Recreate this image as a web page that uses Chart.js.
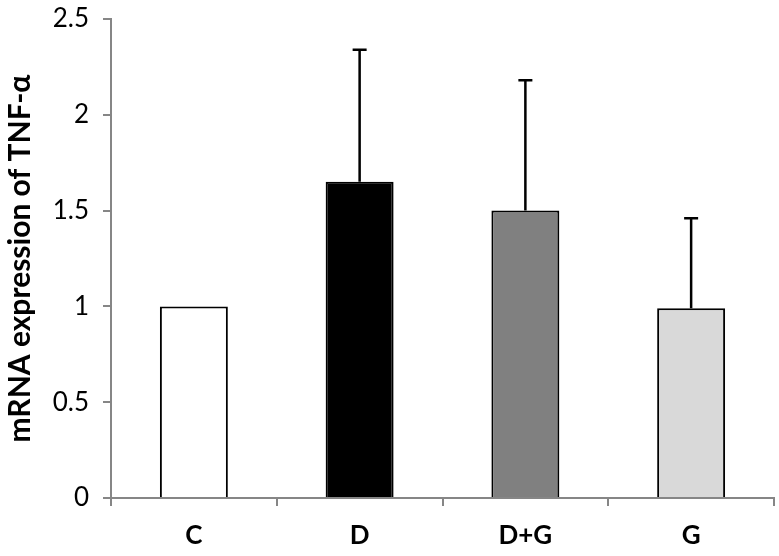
<!DOCTYPE html>
<html>
<head>
<meta charset="utf-8">
<script src="https://cdn.jsdelivr.net/npm/chart.js@4/dist/chart.umd.min.js"></script>
<style>
  body { margin: 0; background: #fff; }
  #wrap { width: 779px; height: 556px; }
</style>
</head>
<body>
<div id="wrap"><canvas id="tnfChart"></canvas></div>
<script>
// datos
var categories = ['C', 'D', 'D+G', 'G'];
var expression = [1.0, 1.65, 1.5, 0.99];
var errorUp = [0, 0.69, 0.68, 0.47];
var yTicks = [0, 0.5, 1, 1.5, 2, 2.5];

var barColors = ['#ffffff', '#000000', '#808080', '#d9d9d9'];

// barras de error (solo hacia arriba)
var errorBars = {
    id: 'errorBars',
    afterDatasetsDraw: function(chart) {
        var ctx = chart.ctx;
        var meta = chart.getDatasetMeta(0);
        var y = chart.scales.y;
        ctx.save();
        ctx.strokeStyle = '#000';
        ctx.lineWidth = 2.5;
        meta.data.forEach(function(bar, i) {
            if (!errorUp[i]) return;
            var top = y.getPixelForValue(expression[i] + errorUp[i]);
            var base = y.getPixelForValue(expression[i]);
            ctx.beginPath();
            ctx.moveTo(bar.x, base);
            ctx.lineTo(bar.x, top);
            ctx.moveTo(bar.x - 7, top);
            ctx.lineTo(bar.x + 7, top);
            ctx.stroke();
        });
        ctx.restore();
    }
};

new Chart(document.getElementById('tnfChart'), {
    type: 'bar',
    data: {
        labels: categories,
        datasets: [{
            data: expression,
            backgroundColor: barColors,
            borderColor: '#000',
            borderWidth: 2,
            categoryPercentage: 0.41,
            barPercentage: 1
        }]
    },
    options: {
        responsive: true,
        maintainAspectRatio: false,
        animation: false,
        layout: { padding: { top: 19, right: 5, left: 0, bottom: 0 } },
        plugins: {
            legend: { display: false },
            tooltip: { enabled: false }
        },
        scales: {
            x: {
                offset: true,
                grid: {
                    offset: true,
                    drawOnChartArea: false,
                    drawTicks: true,
                    tickLength: 8,
                    color: '#868686',
                    lineWidth: 2
                },
                border: { color: '#868686', width: 2 },
                ticks: {
                    color: '#000',
                    padding: 14,
                    font: { family: 'Lato', size: 26, weight: 'bold' }
                },
                afterFit: function(scale) {
                    scale.height = 58;
                    scale.paddingRight = 0;
                }
            },
            y: {
                min: 0,
                max: 2.5,
                afterBuildTicks: function(scale) {
                    scale.ticks = yTicks.map(function(v) { return { value: v }; });
                },
                grid: {
                    drawOnChartArea: false,
                    tickLength: 8,
                    color: '#868686',
                    lineWidth: 2
                },
                border: { color: '#868686', width: 2 },
                ticks: {
                    color: '#000',
                    padding: 14,
                    font: { family: 'Lato', size: 26 },
                    callback: function(value) { return String(value); }
                },
                title: {
                    display: true,
                    text: 'mRNA expression of TNF-α',
                    color: '#000',
                    padding: { top: 2, bottom: 0 },
                    font: { family: 'Lato', size: 30, weight: 'bold' }
                },
                afterFit: function(scale) {
                    scale.width = 111;
                    scale.paddingTop = 0;
                    scale.paddingBottom = 0;
                }
            }
        }
    },
    plugins: [errorBars]
});
</script>
</body>
</html>
